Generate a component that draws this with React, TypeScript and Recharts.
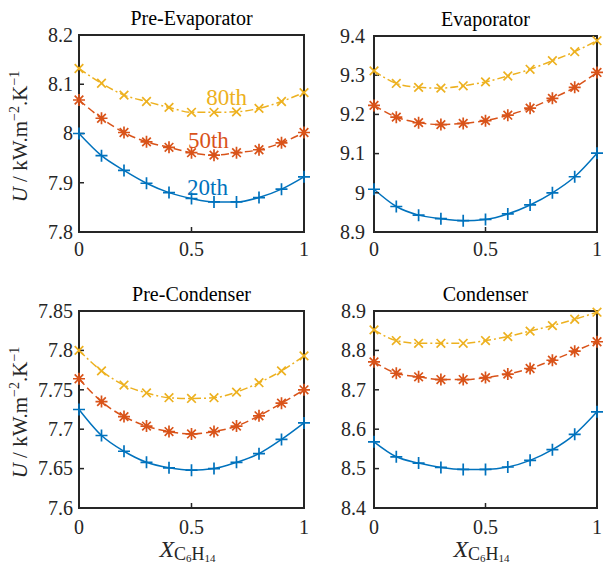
import React from "react";
import { LineChart, Line, XAxis, YAxis, ReferenceArea, ReferenceDot } from "recharts";

const X_VALUES = [0, 0.1, 0.2, 0.3, 0.4, 0.5, 0.6, 0.7, 0.8, 0.9, 1];
const X_TICKS = [0, 0.5, 1];

const PRE_EVAP_20 = [8.0, 7.955, 7.925, 7.899, 7.88, 7.868, 7.861, 7.861, 7.87, 7.887, 7.912];
const PRE_EVAP_50 = [8.068, 8.031, 8.002, 7.983, 7.972, 7.961, 7.956, 7.961, 7.967, 7.981, 8.002];
const PRE_EVAP_80 = [8.132, 8.102, 8.078, 8.065, 8.053, 8.043, 8.043, 8.044, 8.051, 8.065, 8.083];
const PRE_EVAP_TICKS = [7.8, 7.9, 8, 8.1, 8.2];

const EVAP_20 = [9.009, 8.965, 8.943, 8.934, 8.929, 8.932, 8.946, 8.969, 9.0, 9.041, 9.101];
const EVAP_50 = [9.223, 9.193, 9.179, 9.174, 9.177, 9.184, 9.198, 9.216, 9.241, 9.269, 9.307];
const EVAP_80 = [9.311, 9.279, 9.269, 9.267, 9.273, 9.283, 9.298, 9.315, 9.337, 9.36, 9.388];
const EVAP_TICKS = [8.9, 9, 9.1, 9.2, 9.3, 9.4];

const PRE_COND_20 = [7.725, 7.692, 7.672, 7.658, 7.651, 7.648, 7.65, 7.658, 7.669, 7.687, 7.708];
const PRE_COND_50 = [7.764, 7.735, 7.716, 7.704, 7.697, 7.694, 7.697, 7.704, 7.717, 7.733, 7.75];
const PRE_COND_80 = [7.8, 7.774, 7.756, 7.746, 7.74, 7.739, 7.74, 7.747, 7.759, 7.774, 7.793];
const PRE_COND_TICKS = [7.6, 7.65, 7.7, 7.75, 7.8, 7.85];

const COND_20 = [8.568, 8.53, 8.514, 8.503, 8.498, 8.498, 8.504, 8.521, 8.548, 8.587, 8.644];
const COND_50 = [8.771, 8.742, 8.733, 8.726, 8.726, 8.731, 8.74, 8.754, 8.775, 8.798, 8.822];
const COND_80 = [8.852, 8.825, 8.818, 8.818, 8.818, 8.825, 8.835, 8.849, 8.863, 8.879, 8.897];
const COND_TICKS = [8.4, 8.5, 8.6, 8.7, 8.8, 8.9];

// percentile labels in the first panel (data coords)
const PRE_EVAP_NOTES = [
  { x: 0.656, y: 8.074, text: "80th", key: "p80" },
  { x: 0.575, y: 7.987, text: "50th", key: "p50" },
  { x: 0.571, y: 7.89, text: "20th", key: "p20" },
];

const BLUE = "#0072BD";
const ORANGE = "#D95319";
const YELLOW = "#EDB120";
const AXIS = "#262626";
const FONT = "Liberation Serif";

const COLORS: Record<string, string> = { p20: BLUE, p50: ORANGE, p80: YELLOW };

const Marker = ({ cx, cy, shape, color }: any) => {
  if (cx == null || cy == null) return null;
  const s = 6;
  const d = 4.3;
  const plus = `M${cx - s},${cy}L${cx + s},${cy}M${cx},${cy - s}L${cx},${cy + s}`;
  const cross = `M${cx - d},${cy - d}L${cx + d},${cy + d}M${cx - d},${cy + d}L${cx + d},${cy - d}`;
  const path = shape === "plus" ? plus : shape === "cross" ? cross : plus + cross;
  return <path d={path} stroke={color} strokeWidth={1.7} fill="none" />;
};

const XTick = ({ x, y, payload }: any) => (
  <text x={x} y={y} dy="0.7em" textAnchor="middle" fill={AXIS} fontSize={20} fontFamily={FONT}>
    {payload.value}
  </text>
);

const YTick = ({ x, y, payload }: any) => (
  <text x={x} y={y} dy="0.34em" textAnchor="end" fill={AXIS} fontSize={20} fontFamily={FONT}>
    {payload.value}
  </text>
);

const yLabel = (props: any) => {
  const vb = props.viewBox || {};
  const x = 27;
  const y = vb.y + vb.height / 2 + 3;
  return (
    <text
      x={x}
      y={y}
      transform={`rotate(-90, ${x}, ${y})`}
      textAnchor="middle"
      fill={AXIS}
      fontFamily={FONT}
      fontSize={21}
    >
      <tspan fontStyle="italic">U</tspan>
      <tspan> / kW.m</tspan>
      <tspan fontSize={14} dy={-8}>−2</tspan>
      <tspan dy={8}>.K</tspan>
      <tspan fontSize={14} dy={-8}>−1</tspan>
    </text>
  );
};

const xLabel = (props: any) => {
  const vb = props.viewBox || {};
  const x = vb.x + vb.width / 2 - 4;
  const y = vb.y + 49;
  return (
    <text x={x} y={y} textAnchor="middle" fill={AXIS} fontFamily={FONT} fontSize={24}>
      <tspan fontStyle="italic">X</tspan>
      <tspan fontSize={18} dy={3}>C</tspan>
      <tspan fontSize={11} dy={2}>6</tspan>
      <tspan fontSize={18} dy={-2}>H</tspan>
      <tspan fontSize={11} dy={2}>14</tspan>
    </text>
  );
};

const titleLabel = (text: string) => (props: any) => {
  const vb = props.viewBox || {};
  return (
    <text
      x={vb.x + vb.width / 2}
      y={vb.y + vb.height - 10}
      textAnchor="middle"
      fill="#000"
      fontFamily={FONT}
      fontSize={20}
    >
      {text}
    </text>
  );
};

type PanelProps = {
  title: string;
  s20: number[];
  s50: number[];
  s80: number[];
  yTicks: number[];
  left: number;
  top: number;
  width: number;
  height: number;
  yAxisW: number;
  topH: number;
  bottomH: number;
  yTickMargin: number;
  xTickMargin: number;
  showY: boolean;
  showX: boolean;
  notes?: { x: number; y: number; text: string; key: string }[];
};

const Panel = (p: PanelProps) => {
  const data = X_VALUES.map((x, i) => ({ x, p20: p.s20[i], p50: p.s50[i], p80: p.s80[i] }));
  const lo = p.yTicks[0];
  const hi = p.yTicks[p.yTicks.length - 1];
  const tickLine = { stroke: AXIS, strokeWidth: 1.5 };
  return (
    <div style={{ position: "absolute", left: p.left, top: p.top }}>
      <LineChart width={p.width} height={p.height} data={data} margin={{ top: 0, right: 0, bottom: 0, left: 0 }}>
        <XAxis
          dataKey="x"
          type="number"
          domain={[0, 1]}
          ticks={X_TICKS}
          interval={0}
          height={p.bottomH}
          axisLine={false}
          tickSize={-5}
          tickMargin={p.xTickMargin}
          tickLine={tickLine}
          tick={XTick}
          label={p.showX ? xLabel : undefined}
        />
        <XAxis
          xAxisId="top"
          dataKey="x"
          orientation="top"
          type="number"
          domain={[0, 1]}
          ticks={X_TICKS}
          interval={0}
          height={p.topH}
          axisLine={false}
          tickSize={-5}
          tickLine={tickLine}
          tick={false}
          label={titleLabel(p.title)}
        />
        <YAxis
          type="number"
          domain={[lo, hi]}
          ticks={p.yTicks}
          interval={0}
          width={p.yAxisW}
          axisLine={false}
          tickSize={-5}
          tickMargin={p.yTickMargin}
          tickLine={tickLine}
          tick={YTick}
          label={p.showY ? yLabel : undefined}
        />
        <YAxis
          yAxisId="right"
          orientation="right"
          type="number"
          domain={[lo, hi]}
          ticks={p.yTicks}
          interval={0}
          width={6}
          axisLine={false}
          tickSize={-5}
          tickLine={tickLine}
          tick={false}
        />
        <ReferenceArea x1={0} x2={1} y1={lo} y2={hi} fill="none" fillOpacity={0} stroke={AXIS} strokeWidth={2} />
        <Line
          dataKey="p80"
          type="monotone"
          stroke={YELLOW}
          strokeWidth={1.5}
          strokeDasharray="8 3 2 3"
          isAnimationActive={false}
          activeDot={false}
          dot={(d: any) => <Marker key={`y-${d.index}`} cx={d.cx} cy={d.cy} shape="cross" color={YELLOW} />}
        />
        <Line
          dataKey="p50"
          type="monotone"
          stroke={ORANGE}
          strokeWidth={1.5}
          strokeDasharray="8 4"
          isAnimationActive={false}
          activeDot={false}
          dot={(d: any) => <Marker key={`o-${d.index}`} cx={d.cx} cy={d.cy} shape="star" color={ORANGE} />}
        />
        <Line
          dataKey="p20"
          type="monotone"
          stroke={BLUE}
          strokeWidth={1.5}
          isAnimationActive={false}
          activeDot={false}
          dot={(d: any) => <Marker key={`b-${d.index}`} cx={d.cx} cy={d.cy} shape="plus" color={BLUE} />}
        />
        {(p.notes || []).map((n) => (
          <ReferenceDot
            key={n.key}
            x={n.x}
            y={n.y}
            r={0}
            fill="none"
            stroke="none"
            label={(lp: any) => {
              const vb = lp.viewBox || {};
              return (
                <text
                  x={vb.cx ?? vb.x}
                  y={vb.cy ?? vb.y}
                  dy="0.34em"
                  textAnchor="middle"
                  fill={COLORS[n.key]}
                  fontSize={23}
                  fontFamily={FONT}
                >
                  {n.text}
                </text>
              );
            }}
          />
        ))}
      </LineChart>
    </div>
  );
};

export default function App() {
  return (
    <div style={{ position: "absolute", left: 0, top: 0, width: 603, height: 567, background: "#fff", overflow: "hidden" }}>
      <Panel
        title="Pre-Evaporator"
        s20={PRE_EVAP_20}
        s50={PRE_EVAP_50}
        s80={PRE_EVAP_80}
        yTicks={PRE_EVAP_TICKS}
        left={0}
        top={0}
        width={310}
        height={270}
        yAxisW={79}
        topH={35}
        bottomH={38}
        yTickMargin={11}
        xTickMargin={15}
        showY
        showX={false}
        notes={PRE_EVAP_NOTES}
      />
      <Panel
        title="Evaporator"
        s20={EVAP_20}
        s50={EVAP_50}
        s80={EVAP_80}
        yTicks={EVAP_TICKS}
        left={300}
        top={0}
        width={303}
        height={270}
        yAxisW={74}
        topH={36}
        bottomH={38}
        yTickMargin={14}
        xTickMargin={15}
        showY={false}
        showX={false}
      />
      <Panel
        title="Pre-Condenser"
        s20={PRE_COND_20}
        s50={PRE_COND_50}
        s80={PRE_COND_80}
        yTicks={PRE_COND_TICKS}
        left={0}
        top={280}
        width={310}
        height={287}
        yAxisW={79}
        topH={31}
        bottomH={59}
        yTickMargin={11}
        xTickMargin={17}
        showY
        showX
      />
      <Panel
        title="Condenser"
        s20={COND_20}
        s50={COND_50}
        s80={COND_80}
        yTicks={COND_TICKS}
        left={300}
        top={280}
        width={303}
        height={287}
        yAxisW={74}
        topH={31}
        bottomH={59}
        yTickMargin={13}
        xTickMargin={17}
        showY={false}
        showX
      />
    </div>
  );
}
